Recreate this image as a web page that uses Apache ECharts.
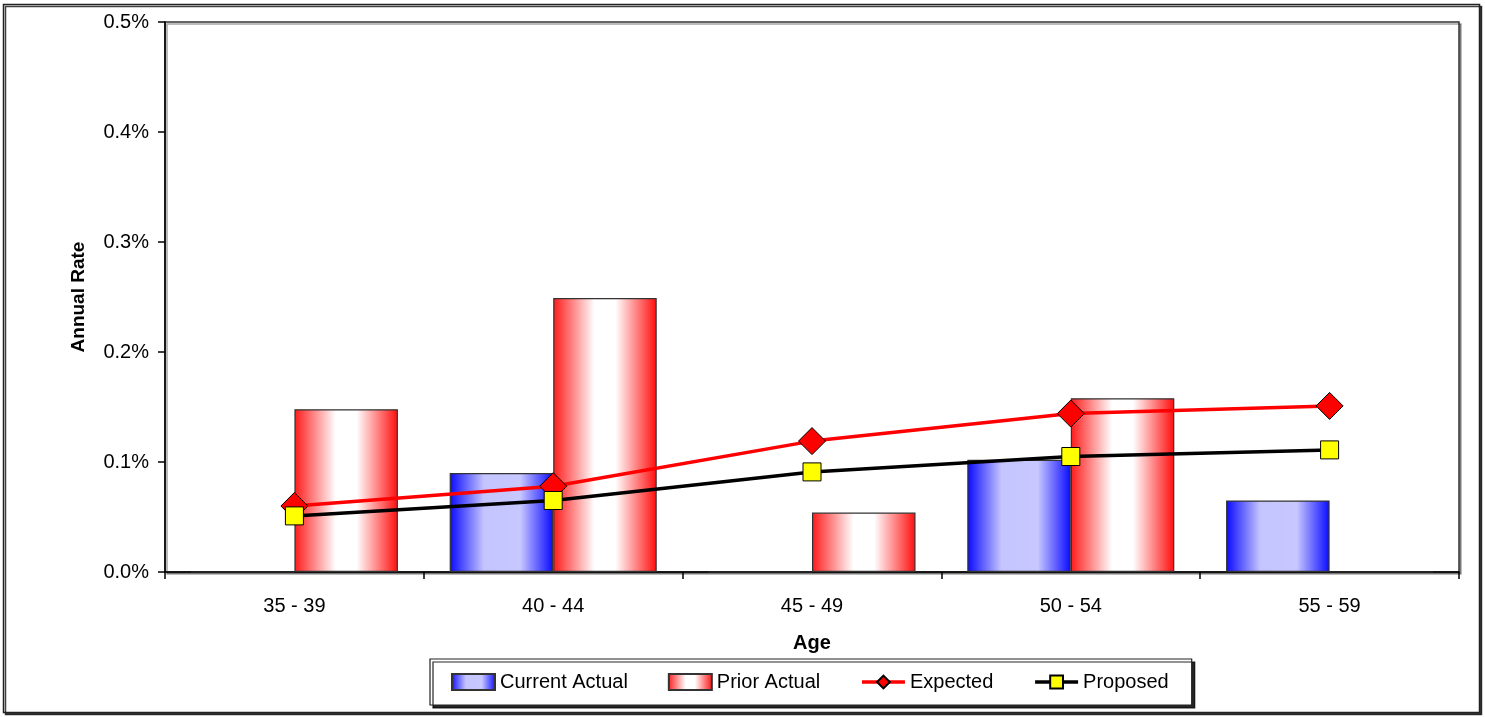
<!DOCTYPE html>
<html>
<head>
<meta charset="utf-8">
<script src="https://cdn.jsdelivr.net/npm/echarts@6/dist/echarts.min.js"></script>
<style>
  html, body { margin: 0; padding: 0; background: #ffffff; }
  #chart { width: 1485px; height: 717px; }
</style>
</head>
<body>
<div id="chart"></div>
<script>
// Age bands on the category axis
const ageBands = ['35 - 39', '40 - 44', '45 - 49', '50 - 54', '55 - 59'];

// Annual rates, in percent
const currentActual = [0, 0.090, 0, 0.102, 0.065];
const priorActual   = [0.148, 0.249, 0.054, 0.158, 0];
const expected      = [0.060, 0.078, 0.119, 0.144, 0.151];
const proposed      = [0.051, 0.065, 0.091, 0.105, 0.111];

// Value axis ticks
const rateMin = 0;
const rateMax = 0.5;
const rateStep = 0.1;

const FONT = '"Liberation Sans", Arial, sans-serif';

const blueFill = new echarts.graphic.LinearGradient(0, 0, 1, 0, [
  { offset: 0, color: '#0a0aff' },
  { offset: 0.33, color: '#c4c4ff' },
  { offset: 0.68, color: '#c8c8ff' },
  { offset: 1, color: '#0a0aff' }
]);
const redFill = new echarts.graphic.LinearGradient(0, 0, 1, 0, [
  { offset: 0, color: '#ff1a1a' },
  { offset: 0.4, color: '#ffffff' },
  { offset: 0.6, color: '#ffffff' },
  { offset: 1, color: '#ff0d0d' }
]);

const chart = echarts.init(document.getElementById('chart'), null, { renderer: 'canvas' });

chart.setOption({
  animation: false,
  backgroundColor: '#ffffff',
  textStyle: { fontFamily: FONT },
  graphic: [{
    type: 'rect',
    z: -10,
    shape: { x: 3.5, y: 4.5, width: 1476, height: 708 },
    style: {
      fill: '#ffffff',
      stroke: '#222222',
      lineWidth: 1.5,
      shadowColor: 'rgba(0,0,0,0.75)',
      shadowOffsetX: 2,
      shadowOffsetY: 2,
      shadowBlur: 0
    }
  }],
  grid: {
    left: 165,
    right: 26,
    top: 22,
    bottom: 145,
    show: true,
    backgroundColor: '#ffffff',
    borderColor: '#333333',
    borderWidth: 1.5,
    shadowColor: 'rgba(0,0,0,0.35)',
    shadowOffsetX: 2,
    shadowOffsetY: 2,
    shadowBlur: 0
  },
  legend: {
    left: 430,
    top: 659,
    orient: 'horizontal',
    padding: [13, 23, 13, 21],
    itemWidth: 43,
    itemHeight: 16,
    itemGap: 40,
    backgroundColor: '#ffffff',
    borderColor: '#222222',
    borderWidth: 1.2,
    shadowColor: 'rgba(0,0,0,0.85)',
    shadowOffsetX: 3,
    shadowOffsetY: 3,
    shadowBlur: 0,
    textStyle: { fontFamily: FONT, fontSize: 20, color: '#000000' },
    lineStyle: { width: 3.5 },
    data: [
      { name: 'Current Actual', icon: 'rect' },
      { name: 'Prior Actual', icon: 'rect' },
      { name: 'Expected' },
      { name: 'Proposed' }
    ]
  },
  xAxis: {
    type: 'category',
    data: ageBands,
    boundaryGap: true,
    name: 'Age',
    nameLocation: 'middle',
    nameGap: 61,
    nameTextStyle: { fontFamily: FONT, fontSize: 20, fontWeight: 'bold', color: '#000000' },
    axisLine: { show: true, lineStyle: { color: '#000000', width: 1.5 } },
    axisTick: { show: true, length: 7, inside: false, lineStyle: { color: '#000000', width: 1.5 } },
    axisLabel: { fontFamily: FONT, fontSize: 20, color: '#000000', margin: 24 },
    splitLine: { show: false }
  },
  yAxis: {
    type: 'value',
    min: rateMin,
    max: rateMax,
    interval: rateStep,
    name: 'Annual Rate',
    nameLocation: 'middle',
    nameRotate: 90,
    nameGap: 77,
    nameTextStyle: { fontFamily: FONT, fontSize: 19, fontWeight: 'bold', color: '#000000' },
    axisLine: { show: true, lineStyle: { color: '#000000', width: 1.5 } },
    axisTick: { show: true, length: 7, lineStyle: { color: '#000000', width: 1.5 } },
    axisLabel: {
      fontFamily: FONT, fontSize: 20, color: '#000000', margin: 16,
      formatter: v => v.toFixed(1) + '%'
    },
    splitLine: { show: false }
  },
  series: [
    {
      name: 'Current Actual',
      type: 'bar',
      data: currentActual,
      barGap: '0%',
      barCategoryGap: '20%',
      itemStyle: { color: blueFill, borderColor: '#333333', borderWidth: 1.2 },
      z: 2
    },
    {
      name: 'Prior Actual',
      type: 'bar',
      data: priorActual,
      barGap: '0%',
      barCategoryGap: '20%',
      itemStyle: { color: redFill, borderColor: '#333333', borderWidth: 1.2 },
      z: 2
    },
    {
      name: 'Expected',
      type: 'line',
      data: expected,
      symbol: 'diamond',
      symbolSize: [27, 27],
      lineStyle: { color: '#ff0000', width: 3.5 },
      itemStyle: { color: '#ff0000', borderColor: '#000000', borderWidth: 1 },
      z: 3
    },
    {
      name: 'Proposed',
      type: 'line',
      data: proposed,
      symbol: 'rect',
      symbolSize: [18, 18],
      lineStyle: { color: '#000000', width: 3.5 },
      itemStyle: { color: '#ffff00', borderColor: '#000000', borderWidth: 1 },
      z: 4
    }
  ]
});
</script>
</body>
</html>
